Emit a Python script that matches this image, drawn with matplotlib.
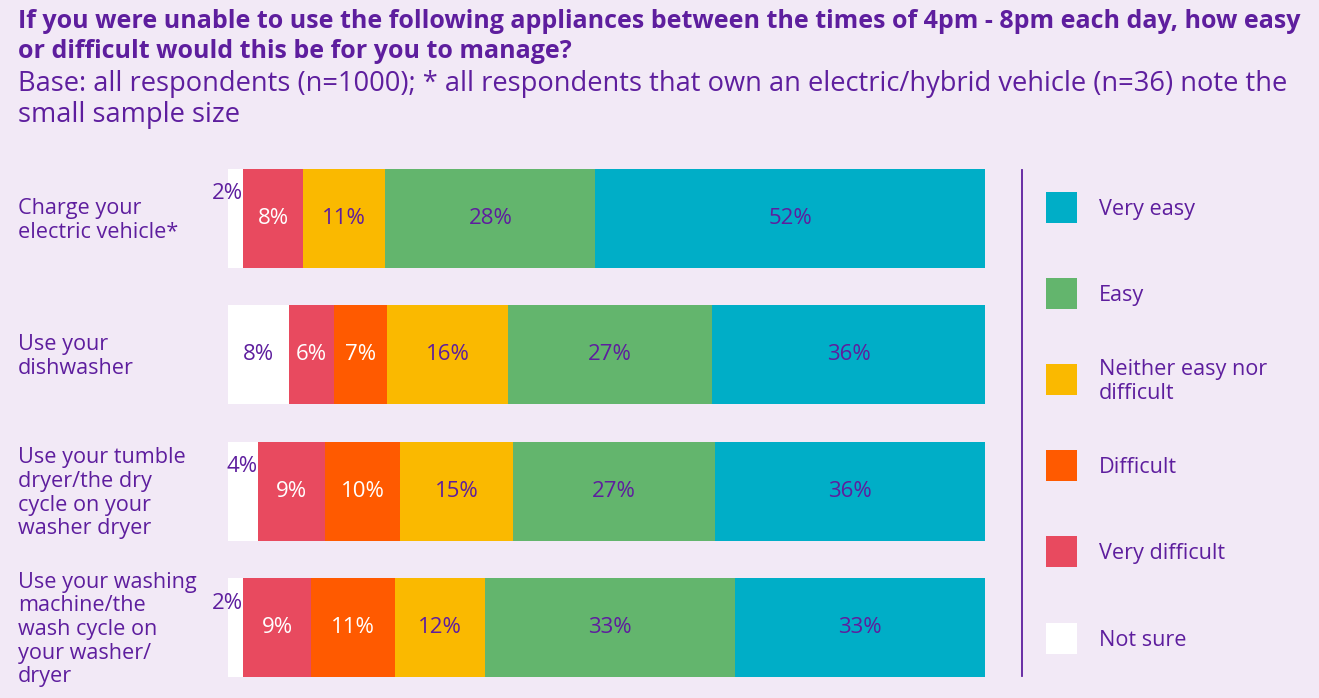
import matplotlib
matplotlib.use("Agg")
import matplotlib.pyplot as plt
from matplotlib.patches import Rectangle
import numpy as np

plt.rcParams['font.family'] = ['Open Sans', 'DejaVu Sans']

categories = ["Charge your\nelectric vehicle*",
              "Use your\ndishwasher",
              "Use your tumble\ndryer/the dry\ncycle on your\nwasher dryer",
              "Use your washing\nmachine/the\nwash cycle on\nyour washer/\ndryer"]
series_names = ["Not sure", "Very difficult", "Difficult",
                "Neither easy nor\ndifficult", "Easy", "Very easy"]
not_sure = [2, 8, 4, 2]
very_difficult = [8, 6, 9, 9]
difficult = [0, 7, 10, 11]
neither = [11, 16, 15, 12]
easy = [28, 27, 27, 33]
very_easy = [52, 36, 36, 33]

title_lines = ["If you were unable to use the following appliances between the times of 4pm - 8pm each day, how easy",
               "or difficult would this be for you to manage?"]
subtitle_lines = ["Base: all respondents (n=1000); * all respondents that own an electric/hybrid vehicle (n=36) note the",
                  "small sample size"]

colors = ["#FFFFFF", "#E84A5F", "#FF5A00", "#FAB900", "#63B56D", "#00AEC7"]
label_colors = ["#5E1E9E", "#FFFFFF", "#FFFFFF", "#5E1E9E", "#5E1E9E", "#5E1E9E"]
purple = "#5E1E9E"
bg = "#F2E9F6"

W, H = 1319, 698
fig = plt.figure(figsize=(W / 100, H / 100), dpi=100, facecolor=bg)

# Title and subtitle
for line, yc in zip(title_lines, [21, 51]):
    fig.text(18 / W, 1 - yc / H, line, ha='left', va='center', fontsize=18.0,
             fontweight='bold', color=purple)
for line, yc in zip(subtitle_lines, [84, 115]):
    fig.text(18 / W, 1 - yc / H, line, ha='left', va='center', fontsize=19.6, color=purple)

ax = fig.add_axes([228 / W, 21 / H, 757 / W, 508 / H])
ax.set_facecolor(bg)
data = np.array([not_sure, very_difficult, difficult, neither, easy, very_easy], dtype=float)
totals = data.sum(axis=0)
norm = data / totals * 100
y = np.arange(len(categories))
h = 0.725
left = np.zeros(len(categories))
for i in range(len(series_names)):
    ax.barh(y, norm[i], left=left, height=h, color=colors[i], edgecolor='none')
    for j in range(len(categories)):
        v = data[i, j]
        if v <= 0:
            continue
        if v < 5:
            ax.text(left[j] + norm[i, j], y[j] - 0.18, f"{int(v)}%", ha='right', va='center',
                    fontsize=16, color=purple)
        else:
            ax.text(left[j] + norm[i, j] / 2, y[j], f"{int(v)}%", ha='center', va='center',
                    fontsize=16, color=label_colors[i])
    left += norm[i]

ax.set_xlim(0, 100)
ax.set_ylim(len(categories) - 1 + h / 2, -h / 2)
ax.axis('off')
ax.patch.set_visible(False)

for j, c in enumerate(categories):
    disp = ax.transData.transform((0, y[j]))
    yfig = fig.transFigure.inverted().transform(disp)[1] - 2 / H
    fig.text(18 / W, yfig, c, ha='left', va='center', fontsize=15.6, color=purple,
             linespacing=1.165)

# Legend area
lax = fig.add_axes([1000 / W, 21 / H, 319 / W, 508 / H])
lax.set_xlim(1000, 1319)
lax.set_ylim(677, 169)
lax.axis('off')
lax.patch.set_visible(False)
lax.plot([1022, 1022], [170, 676], color=purple, lw=1.3)
order = list(range(len(series_names)))[::-1]
for k, i in enumerate(order):
    cy = 207 + k * 86.2
    lax.add_patch(Rectangle((1046, cy - 15.5), 31, 31, facecolor=colors[i], edgecolor='none'))
    lax.text(1099, cy + 2, series_names[i], ha='left', va='center', fontsize=15.6, color=purple,
             linespacing=1.165)

fig.savefig("out.png", dpi=100, facecolor=bg)
